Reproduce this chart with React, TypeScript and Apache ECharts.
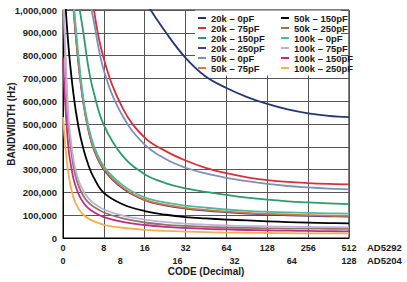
import React, { useEffect, useRef } from "react";
import * as echarts from "echarts";

// Codes (AD5292 scale) at which the curves were read
const codes = [0, 1, 2, 3, 4, 5, 6, 8, 11, 16, 23, 32, 45, 64, 91, 128, 181, 256, 362, 512];
const tickCodes1 = [0, 8, 16, 32, 64, 128, 256, 512];
const tickCodes2 = [0, 8, 16, 32, 64, 128];
const yMax = 1000000;
const yStep = 100000;

const seriesNames = [
  "20k – 0pF", "20k – 75pF", "20k – 150pF", "20k – 250pF", "50k – 0pF", "50k – 75pF",
  "50k – 150pF", "50k – 250pF", "100k – 0pF", "100k – 75pF", "100k – 150pF", "100k – 250pF",
];
const seriesColors = [
  "#24376f", "#d3323d", "#2f9a6b", "#4e3b86", "#7f8fb8", "#d47a40",
  "#000000", "#8c7a5e", "#52b9a0", "#c1b1da", "#c22b8d", "#f1b052",
];

const bw20k0 = [null, null, null, null, null, null, null, null, null, 1040000, 900000, 790000, 708000, 658000, 618000, 588000, 564000, 547000, 536000, 530000];
const bw20k75 = [null, null, null, null, null, null, 1010000, 785000, 570000, 440000, 380000, 340000, 308000, 284000, 266000, 254000, 246000, 241000, 237500, 235000];
const bw20k150 = [null, null, null, 1040000, 898000, 745000, 640000, 495000, 360000, 280000, 240000, 218000, 202000, 189000, 177000, 168000, 161000, 156000, 152000, 149000];
const bw20k250 = [null, null, 1020000, 770000, 590000, 470000, 390000, 300000, 218000, 166000, 142000, 129000, 120000, 113000, 107000, 103000, 99500, 97000, 95000, 94000];
const bw50k0 = [null, null, null, null, null, 1070000, 954000, 735000, 535000, 410000, 345000, 308000, 283000, 264000, 249000, 237000, 228000, 222000, 217000, 213000];
const bw50k75 = [null, null, 1030000, 780000, 595000, 475000, 395000, 305000, 222000, 168000, 145000, 132000, 123000, 116000, 110000, 106000, 103000, 100000, 98000, 97000];
const bw50k150 = [1200000, 860000, 640000, 490000, 390000, 318000, 266000, 198000, 148000, 118000, 102000, 92000, 86000, 81000, 77000, 73000, 70000, 67500, 65500, 64000];
const bw50k250 = [1100000, 520000, 320000, 232000, 184000, 155000, 137000, 112000, 86000, 68000, 58000, 53000, 49000, 46000, 44000, 42500, 41500, 41000, 40500, 40000];
const bw100k0 = [null, null, 1060000, 805000, 610000, 488000, 408000, 315000, 232000, 178000, 155000, 142000, 133000, 125000, 119000, 115000, 112000, 110000, 108000, 107000];
const bw100k75 = [1150000, 560000, 350000, 255000, 205000, 174000, 153000, 125000, 98000, 81000, 70000, 63000, 58500, 55000, 52500, 51000, 49500, 48500, 47500, 47000];
const bw100k150 = [790000, 410000, 265000, 195000, 155000, 130000, 114000, 92000, 71000, 57000, 49000, 44000, 40000, 37500, 35000, 33500, 32000, 31000, 30000, 29000];
const bw100k250 = [530000, 290000, 180000, 130000, 102000, 85000, 74000, 58000, 45000, 36000, 31000, 28000, 25500, 24000, 23000, 22000, 21000, 20500, 20000, 20000];

const seriesValues = [
  bw20k0, bw20k75, bw20k150, bw20k250, bw50k0, bw50k75,
  bw50k150, bw50k250, bw100k0, bw100k75, bw100k150, bw100k250,
];

// axis scale: linear from 0 to 8, then one tick per doubling
const codeToPos = (c: number) => (c <= 8 ? c / 8 : 1 + Math.log2(c / 8));

const FONT = "'Liberation Sans', Arial, Helvetica, sans-serif";
const TXT = "#1a1a1a";

export default function App() {
  const ref = useRef<HTMLDivElement>(null);
  useEffect(() => {
    if (!ref.current) return;
    const chart = echarts.init(ref.current, undefined, { renderer: "svg" });
    const series = seriesNames.map((name, i) => ({
      name,
      type: "line",
      xAxisIndex: 0,
      showSymbol: false,
      symbol: "none",
      smooth: 0.4,
      clip: true,
      lineStyle: { width: 1.8, color: seriesColors[i], join: "round" },
      itemStyle: { color: seriesColors[i] },
      data: codes
        .map((c, k) => [codeToPos(c), seriesValues[i][k]])
        .filter((d) => d[1] !== null),
    }));
    const legendText = { fontFamily: FONT, fontWeight: "bold", fontSize: 9.5, color: TXT, lineHeight: 8.5 };
    chart.setOption({
      animation: false,
      textStyle: { fontFamily: FONT },
      grid: {
        left: 63, right: 58, top: 10, bottom: 44, outerBoundsMode: "none", containLabel: false,
        show: true, borderColor: "#000", borderWidth: 1, backgroundColor: "transparent",
      },
      legend: [
        {
          data: seriesNames.slice(0, 6), orient: "vertical", left: 198, top: 13, padding: 0, itemGap: 0,
          icon: "rect", itemWidth: 8, itemHeight: 2, itemStyle: { borderWidth: 0 }, selectedMode: false, textStyle: legendText,
        },
        {
          data: seriesNames.slice(6), orient: "vertical", left: 281, top: 13, padding: 0, itemGap: 0,
          icon: "rect", itemWidth: 8, itemHeight: 2, itemStyle: { borderWidth: 0 }, selectedMode: false, textStyle: legendText,
        },
      ],
      xAxis: [
        {
          type: "value", min: 0, max: 7, interval: 1, position: "bottom",
          name: "CODE (Decimal)", nameLocation: "middle", nameGap: 28, nameMoveOverlap: false,
          nameTextStyle: { fontFamily: FONT, fontWeight: "bold", fontSize: 10, color: TXT },
          axisLine: { show: true, lineStyle: { color: "#000", width: 1 } },
          axisTick: { show: false },
          axisLabel: { margin: 5, fontFamily: FONT, fontWeight: "bold", fontSize: 9, color: TXT, formatter: (v: number) => String(tickCodes1[Math.round(v)] ?? "") },
          splitLine: { show: true, lineStyle: { color: "#555", width: 1 } },
        },
        {
          type: "value", min: 0, max: 5, interval: 1, position: "bottom", offset: 13,
          axisLine: { show: false }, axisTick: { show: false }, splitLine: { show: false },
          axisLabel: { margin: 5, fontFamily: FONT, fontWeight: "bold", fontSize: 9, color: TXT, formatter: (v: number) => String(tickCodes2[Math.round(v)] ?? "") },
        },
      ],
      yAxis: {
        type: "value", min: 0, max: yMax, interval: yStep,
        name: "BANDWIDTH (Hz)", nameLocation: "middle", nameRotate: 90, nameGap: 47, nameMoveOverlap: false,
        nameTextStyle: { fontFamily: FONT, fontWeight: "bold", fontSize: 10, color: TXT },
        axisLine: { show: true, lineStyle: { color: "#000", width: 1 } },
        axisTick: { show: false },
        axisLabel: { margin: 6, fontFamily: FONT, fontWeight: "bold", fontSize: 9.5, color: TXT, formatter: (v: number) => v.toLocaleString("en-US") },
        splitLine: { show: true, lineStyle: { color: "#555", width: 1 } },
      },
      graphic: [
        { type: "rect", z: 1, shape: { x: 195, y: 10.5, width: 146, height: 65 }, style: { fill: "#fff" } },
        { type: "text", x: 367, y: 247, style: { text: "AD5292", fontFamily: FONT, fontWeight: "bold", fontSize: 9.5, fill: TXT, verticalAlign: "middle" } },
        { type: "text", x: 367, y: 260, style: { text: "AD5204", fontFamily: FONT, fontWeight: "bold", fontSize: 9.5, fill: TXT, verticalAlign: "middle" } },
      ],
      series,
    });
    return () => chart.dispose();
  }, []);
  return <div ref={ref} style={{ position: "absolute", left: 0, top: 0, width: 407, height: 282, background: "#fff" }} />;
}
